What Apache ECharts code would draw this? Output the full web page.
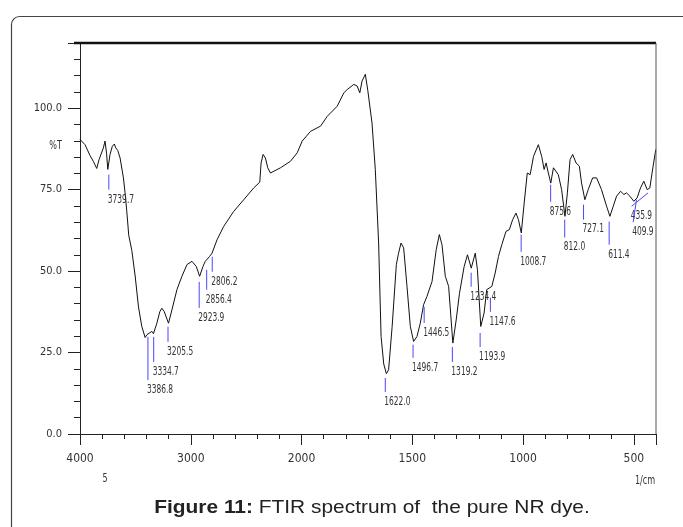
<!DOCTYPE html>
<html>
<head>
<meta charset="utf-8">
<script src="https://cdn.jsdelivr.net/npm/echarts@6/dist/echarts.min.js"></script>
<style>
html,body{margin:0;padding:0;background:#fff;}
#chart{width:683px;height:527px;}
</style>
</head>
<body>
<div id="chart"></div>
<script>
// ---- Data (wavenumber in 1/cm, transmittance %T) ----
const wavenumbers = [4000,3955,3910,3880,3849,3828,3810,3789,3774,3760,3749,3729,3708,3690,3677,3659,3638,3608,3593,3578,3560,3532,3502,3472,3442,3412,3395,3382,3351,3337,3306,3280,3261,3240,3201,3170,3125,3080,3034,2989,2950,2920,2890,2869,2853,2830,2808,2763,2703,2613,2522,2432,2377,2365,2347,2326,2305,2281,2190,2100,2039,1997,1959,1914,1884,1839,1809,1794,1764,1749,1737,1727,1712,1701,1682,1667,1652,1641,1629,1617,1607,1591,1572,1562,1551,1539,1524,1509,1494,1479,1464,1449,1434,1411,1392,1378,1366,1351,1336,1317,1302,1287,1266,1251,1234,1216,1206,1191,1176,1164,1141,1126,1111,1096,1077,1062,1047,1032,1021,1008,995,981,968,953,931,916,905,896,886,875,863,854,841,826,811,800,788,776,761,746,736,721,706,686,668,646,623,608,593,578,560,545,533,518,500,485,470,455,440,428,413,401];
const transmittance = [90.4,88.8,85.5,83.7,81.5,84.2,84.7,87.8,89.9,86.0,81.2,85.8,88.3,89.0,87.8,87.0,84.7,78.6,74.0,68.5,61.0,56.3,48.5,39.0,33.0,29.6,30.5,31.0,31.5,30.8,34.0,37.5,38.6,37.6,34.0,38.1,44.3,48.4,52.0,53.0,51.4,48.4,51.4,53.0,52.5,54.5,55.5,59.6,63.7,68.3,71.9,75.5,77.3,83.2,85.8,84.7,81.7,80.1,81.7,83.7,86.3,89.9,92.9,94.5,97.5,100.6,104.7,105.7,107.3,106.8,104.7,108.3,110.4,105.5,95.5,81.2,58.6,30.0,21.5,18.5,19.7,33.0,52.0,55.5,58.6,57.1,45.3,33.0,28.4,29.9,34.0,39.7,42.2,46.8,56.6,61.2,58.1,48.4,45.3,27.9,35.0,43.2,51.4,55.0,50.9,55.5,50.4,33.0,37.1,44.3,45.3,49.4,54.5,58.1,62.2,62.7,65.8,67.8,65.8,61.7,70.9,80.1,79.6,85.2,88.8,85.2,81.2,83.2,80.1,77.0,81.7,82.2,79.6,75.0,66.8,74.0,84.2,85.8,83.2,82.2,77.0,71.9,75.0,78.6,78.6,75.0,69.9,66.8,69.9,73.0,74.5,73.5,74.0,73.0,71.4,72.5,75.5,77.6,75.0,75.5,82.2,87.3];

// peak annotations
const peakLabels = ["3739.7","3386.8","3334.7","3205.5","2923.9","2856.4","2806.2","1622.0","1496.7","1446.5","1319.2","1234.4","1193.9","1147.6","1008.7","875.6","812.0","727.1","611.4","435.9","409.9"];
const peakTopWn = [3739.7,3386.8,3334.7,3205.5,2923.9,2856.4,2806.2,1622.0,1496.7,1446.5,1319.2,1234.4,1193.9,1147.6,1008.7,875.6,812.0,727.1,611.4,436,488];
const peakTopT  = [79.6,29.8,29.8,32.9,46.7,50.4,54.4,17.2,27.4,39.0,26.7,49.5,31.0,41.8,61.2,76.5,65.8,70.4,65.2,74.0,71.9];
const peakBotWn = [3739.7,3386.8,3334.7,3205.5,2923.9,2856.4,2806.2,1622.0,1496.7,1446.5,1319.2,1234.4,1193.9,1147.6,1008.7,875.6,812.0,727.1,611.4,510,503];
const peakBotT  = [75.0,16.6,22.1,28.3,38.7,44.3,49.8,12.9,23.4,34.1,22.1,45.2,26.7,37.5,55.9,71.3,60.3,65.8,58.1,69.9,65.0];

// tick labels
const xTickWavenumbers = [4000,3000,2000,1500,1000,500];
const yTickValues = [0,25,50,75,100];

// Shimadzu-style axis: scale doubles below 2000 1/cm
function toU(w){ return w >= 2000 ? (4000 - w) / 2 : 1000 + (2000 - w); }
function toWn(u){ return u <= 1000 ? 4000 - 2*u : 2000 - (u - 1000); }

const FONT = '"DejaVu Sans Condensed","DejaVu Sans",sans-serif';
const lineData = wavenumbers.map((w,i)=>[toU(w), transmittance[i]]);
const peakData = peakLabels.map((l,i)=>[toU(peakTopWn[i]), peakTopT[i], toU(peakBotWn[i]), peakBotT[i], i]);

const chart = echarts.init(document.getElementById('chart'), null, {renderer:'canvas'});
chart.setOption({
  animation:false,
  backgroundColor:'#fff',
  grid:{left:80,right:27,top:43,bottom:93,containLabel:false,outerBoundsMode:'none'},
  xAxis:{
    type:'value', min:0, max:2600, interval:500,
    axisLine:{show:true,lineStyle:{color:'#222',width:1}},
    axisTick:{show:true,length:11,lineStyle:{color:'#222'}},
    minorTick:{show:true,splitNumber:5,length:5,lineStyle:{color:'#222'}},
    splitLine:{show:false},
    axisLabel:{margin:19,color:'#333',fontSize:12,fontFamily:FONT,showMaxLabel:false,showMinLabel:true,
      formatter:function(u){const w=toWn(u);return xTickWavenumbers.indexOf(w)>=0?String(w):'';}}
  },
  yAxis:{
    type:'value', min:0, max:120, interval:25,
    axisLine:{show:true,lineStyle:{color:'#222',width:1}},
    axisTick:{show:true,length:12,lineStyle:{color:'#222'}},
    minorTick:{show:true,splitNumber:5,length:6,lineStyle:{color:'#222'}},
    splitLine:{show:false},
    axisLabel:{margin:18,color:'#333',fontSize:11,fontFamily:FONT,showMaxLabel:false,
      formatter:function(v){return yTickValues.indexOf(v)>=0?v.toFixed(1):'';}}
  },
  series:[
    {type:'line', data:lineData, showSymbol:false, symbol:'none', smooth:false,
     lineStyle:{color:'#111',width:1}, z:3, silent:true},
    {type:'custom', data:peakData, clip:false, z:4, silent:true,
     encode:{x:0,y:1},
     renderItem:function(params, api){
       const p1 = api.coord([api.value(0), api.value(1)]);
       const p2 = api.coord([api.value(2), api.value(3)]);
       const i = api.value(4);
       return {type:'group', children:[
         {type:'line', shape:{x1:p1[0],y1:p1[1],x2:p2[0],y2:p2[1]}, style:{stroke:'#4646ff',lineWidth:1}},
         {type:'text', x:p2[0]-1, y:p2[1]+3, scaleX:0.64, style:{text:peakLabels[i], fill:'#333', fontSize:13, fontFamily:FONT, align:'left', verticalAlign:'top'}}
       ]};
     }}
  ],
  graphic:[
    {type:'rect', shape:{x:11.5,y:16.5,width:690,height:540,r:8}, style:{fill:'none',stroke:'#444',lineWidth:1.2}, z:0},
    {type:'line', shape:{x1:74,y1:43,x2:656,y2:43}, style:{stroke:'#111',lineWidth:2.5}, z:10},
    {type:'line', shape:{x1:656,y1:43,x2:656,y2:434}, style:{stroke:'#555',lineWidth:1}, z:10},
    {type:'text', x:62, y:146, scaleX:0.75, style:{text:'%T', fill:'#333', fontSize:12, fontFamily:FONT, align:'right', verticalAlign:'middle'}, z:10},
    {type:'text', x:105, y:479, scaleX:0.75, style:{text:'5', fill:'#333', fontSize:12, fontFamily:FONT, align:'center', verticalAlign:'middle'}, z:10},
    {type:'text', x:645, y:481, scaleX:0.75, style:{text:'1/cm', fill:'#333', fontSize:12, fontFamily:FONT, align:'center', verticalAlign:'middle'}, z:10},
    {type:'text', x:372, y:508, scaleX:1.1, style:{text:'{b|Figure 11:} FTIR spectrum of  the pure NR dye.', fill:'#222', fontSize:19, fontFamily:'"Liberation Sans",Arial,sans-serif', align:'center', verticalAlign:'middle',
      rich:{b:{fontWeight:'bold',fontSize:19,fontFamily:'"Liberation Sans",Arial,sans-serif',fill:'#222'}}}, z:10}
  ]
});
</script>
</body>
</html>
